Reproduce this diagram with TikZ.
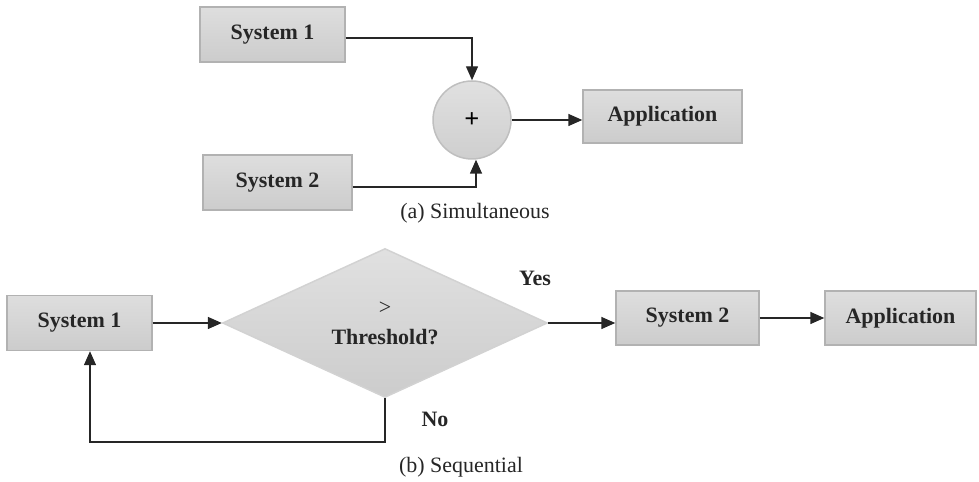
\documentclass[tikz,border=0pt]{standalone}
\usepackage{fontspec}
\setmainfont{Liberation Serif}
\usepackage{tikz}
\usetikzlibrary{shapes.geometric,arrows.meta}

\begin{document}
\begin{tikzpicture}[x=0.02cm, y=0.02cm, line width=0.85pt,
	box/.style = {draw=gray!60, top color=gray!26, bottom color=gray!40, minimum width=2.9cm, minimum height=1.1cm, inner sep=0pt, font=\fontsize{12.5}{14}\selectfont\bfseries, text=black!85},
	sumnode/.style = {circle, draw=gray!50, top color=gray!24, bottom color=gray!38, minimum size=1.56cm, inner sep=0pt, font=\fontsize{15}{16}\selectfont\bfseries},
	decision/.style = {diamond, draw=gray!35, top color=gray!24, bottom color=gray!40, minimum width=6.5cm, minimum height=2.98cm, aspect=2.18, inner sep=0pt, align=center, font=\fontsize{12.5}{14}\selectfont\bfseries, text=black!85},
	lbl/.style = {font=\fontsize{12.5}{14}\selectfont\bfseries, text=black!85},
	caption/.style = {font=\fontsize{12.5}{14}\selectfont, text=black!85},
	arrow/.style = {draw=black!85, -{Triangle[length=0.28cm, width=0.24cm]}}]
	\useasboundingbox (0,0) rectangle (979,482);
	
	% (a) simultaneous
	\begin{scope}
		\node[box] (sysA) at (272.5,447.5) {System 1};
		\node[box, minimum width=2.98cm] (sysB) at (277.5,299.5) {System 2};
		\node[sumnode] (sum) at (472,362) {+};
		\node[box, minimum width=3.18cm, minimum height=1.06cm] (appA) at (662.5,365.5) {Application};
		\node[caption] (capA) at (475,269) {(a) Simultaneous};
		
		\draw[arrow] ([yshift=-0.07cm]sysA.east) -| (sum.north);
		\draw[arrow] ([yshift=-0.09cm]sysB.east) -| ([xshift=0.08cm]sum.south);
		\draw[arrow] (sum.east) -- (sum.east -| appA.west);
	\end{scope}
	
	% (b) sequential
	\begin{scope}
		\node[box] (sys1) at (79.5,159) {System 1};
		\node[decision] (dec) at (385,159) {{\mdseries >}\\[3pt]Threshold?};
		\node[box, minimum width=2.86cm, minimum height=1.08cm] (sys2) at (687.5,164) {System 2};
		\node[box, minimum width=3.02cm, minimum height=1.08cm] (app2) at (900.5,164) {Application};
		\node[lbl] (yes) at (535,204) {Yes};
		\node[lbl] (no) at (435,63) {No};
		\node[caption] (capB) at (461,15) {(b) Sequential};
		\coordinate (back) at (385,40);
		
		\draw[arrow] (sys1.east) -- (dec.west);
		\draw[arrow] (dec.east) -- (dec.east -| sys2.west);
		\draw[arrow] (sys2.east) -- (app2.west);
		\draw[arrow] (dec.south) -- (back) -| ([xshift=0.21cm]sys1.south);
	\end{scope}
\end{tikzpicture}
\end{document}
